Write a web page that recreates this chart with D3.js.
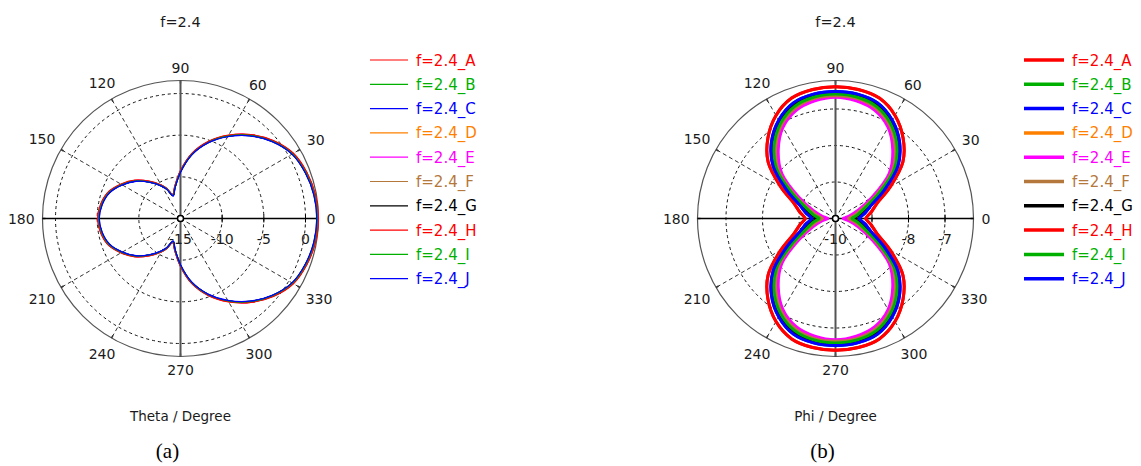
<!DOCTYPE html>
<html>
<head>
<meta charset="utf-8">
<script src="https://cdn.jsdelivr.net/npm/d3@7"></script>
<style>
  body { margin: 0; background: #fff; }
  svg { display: block; }
  text { font-family: "DejaVu Sans", Verdana, sans-serif; }
</style>
</head>
<body>
<svg id="chart" width="1141" height="466"></svg>
<script>
// series names and colours (shared by both plots)
const seriesNames = ["f=2.4_A", "f=2.4_B", "f=2.4_C", "f=2.4_D", "f=2.4_E",
                     "f=2.4_F", "f=2.4_G", "f=2.4_H", "f=2.4_I", "f=2.4_J"];
const seriesColors = ["#ff0000", "#00b000", "#0000ff", "#ff8000", "#ff00ff",
                      "#b4783c", "#000000", "#ff0000", "#00b000", "#0000ff"];

const angleLabels = [0, 30, 60, 90, 120, 150, 180, 210, 240, 270, 300, 330];

// (a) theta cut, 0..180 deg (pattern is symmetric), dB
const thetaAngles = [0, 10, 20, 30, 40, 50, 60, 70, 80, 90, 100, 108, 115, 120, 130, 140, 150, 160, 170, 180];
const thetaBase   = [1.4, 1.3, 1.0, 0.5, -0.6, -2.0, -3.6, -5.3, -7.2, -9.4, -11.2, -12.1, -11.1, -10.5, -9.3, -8.0, -6.9, -5.9, -5.4, -5.2];
const thetaOffset = [0.12, 0, -0.03, 0.04, 0.08, 0.03, 0, 0.14, 0.01, -0.05];
const thetaTicks  = [-15, -10, -5, 0];
const thetaDomain = [-15, 1.56];

// (b) phi cut, 0..90 deg (symmetric about both axes), dB
const phiAngles  = [0, 5, 10, 20, 30, 40, 50, 60, 70, 80, 90];
const phiRed     = [-9.17, -9.11, -9.01, -8.79, -8.27, -7.59, -7.12, -6.74, -6.49, -6.41, -6.39];
const phiBlue    = [-9.35, -9.29, -9.19, -8.97, -8.47, -7.77, -7.27, -6.89, -6.63, -6.54, -6.52];
const phiBlack   = [-9.48, -9.42, -9.32, -9.07, -8.56, -7.84, -7.34, -6.93, -6.67, -6.57, -6.55];
const phiGreen   = [-9.55, -9.48, -9.38, -9.14, -8.63, -7.89, -7.38, -6.99, -6.73, -6.62, -6.59];
const phiBrown   = [-9.64, -9.58, -9.47, -9.21, -8.70, -7.96, -7.45, -7.04, -6.78, -6.66, -6.64];
const phiOrange  = [-9.67, -9.60, -9.49, -9.23, -8.73, -7.99, -7.47, -7.05, -6.79, -6.68, -6.65];
const phiMagenta = [-9.79, -9.73, -9.62, -9.34, -8.85, -8.08, -7.56, -7.12, -6.85, -6.73, -6.68];
const phiSeries  = [phiRed, phiGreen, phiBlue, phiOrange, phiMagenta, phiBrown, phiBlack, phiRed, phiGreen, phiBlue];
const phiTicks   = [-10, -9, -8, -7];
const phiTickLabels = [-10, -8, -7];
const phiDomain  = [-10, -6.22];

const svg = d3.select("#chart");
const rad = Math.PI / 180;

// mirror half pattern to full circle
function mirrorHalf(angles, vals) {
  const pts = angles.map((a, i) => ({ a: a, v: vals[i] }));
  for (let i = angles.length - 2; i > 0; i--) pts.push({ a: 360 - angles[i], v: vals[i] });
  return pts;
}
function mirrorQuarter(angles, vals) {
  const pts = angles.map((a, i) => ({ a: a, v: vals[i] }));
  for (let i = angles.length - 2; i >= 0; i--) pts.push({ a: 180 - angles[i], v: vals[i] });
  for (let i = 1; i < angles.length; i++) pts.push({ a: 180 + angles[i], v: vals[i] });
  for (let i = angles.length - 2; i > 0; i--) pts.push({ a: 360 - angles[i], v: vals[i] });
  return pts;
}

function drawPolar(opt) {
  const g = svg.append("g").attr("transform", `translate(${opt.cx},${opt.cy})`);
  const R = opt.R;
  const r = d3.scaleLinear().domain(opt.domain).range([0, R]);

  // dashed spokes
  angleLabels.filter(a => a % 90 !== 0).forEach(a => {
    g.append("line")
      .attr("x1", 0).attr("y1", 0)
      .attr("x2", R * Math.cos(a * rad)).attr("y2", -R * Math.sin(a * rad))
      .attr("stroke", "#333").attr("stroke-width", 1).attr("stroke-dasharray", "4,3");
  });
  // dashed rings
  g.selectAll(".ring").data(opt.ticks.slice(1)).enter().append("circle")
    .attr("r", d => r(d)).attr("fill", "none")
    .attr("stroke", "#111").attr("stroke-width", 1).attr("stroke-dasharray", "3,3");
  // outer circle
  g.append("circle").attr("r", R).attr("fill", "none").attr("stroke", "#555").attr("stroke-width", 1.2);
  angleLabels.forEach(a => {
    g.append("line")
      .attr("x1", (R - 3) * Math.cos(a * rad)).attr("y1", -(R - 3) * Math.sin(a * rad))
      .attr("x2", R * Math.cos(a * rad)).attr("y2", -R * Math.sin(a * rad))
      .attr("stroke", "#333").attr("stroke-width", 1.5);
  });
  // main axes
  g.append("line").attr("x1", 0).attr("y1", -R).attr("x2", 0).attr("y2", R)
    .attr("stroke", "#555").attr("stroke-width", 2);
  g.append("line").attr("x1", -R).attr("y1", 0).attr("x2", R).attr("y2", 0)
    .attr("stroke", "#000").attr("stroke-width", 1.3);
  // radial ticks
  opt.ticks.slice(1).forEach(t => {
    g.append("line").attr("x1", r(t)).attr("x2", r(t)).attr("y1", -4).attr("y2", 4)
      .attr("stroke", "#000").attr("stroke-width", 1);
  });
  g.selectAll(".tl").data(opt.tickLabels).enter().append("text")
    .attr("x", d => r(d)).attr("y", 25)
    .attr("text-anchor", "middle").attr("font-size", "14px").attr("fill", "#1a1a1a")
    .text(d => d);

  // angle labels
  angleLabels.forEach(a => {
    const s = String(a);
    const w = s.length * 8.8, h = 10;
    const c = Math.cos(a * rad), sn = Math.sin(a * rad);
    const d = R + 8 + (w / 2) * Math.abs(c) + (h / 2) * Math.abs(sn);
    g.append("text")
      .attr("x", d * c).attr("y", -d * sn).attr("dy", "0.36em")
      .attr("text-anchor", "middle").attr("font-size", "14px").attr("fill", "#1a1a1a")
      .text(s);
  });

  // curves
  const line = d3.lineRadial()
    .angle(d => (90 - d.a) * rad)
    .radius(d => r(d.v))
    .curve(d3.curveCatmullRomClosed.alpha(0.5));
  opt.series.forEach((pts, i) => {
    g.append("path").attr("d", line(pts))
      .attr("fill", "none").attr("stroke", seriesColors[i])
      .attr("stroke-width", opt.lineWidth).attr("stroke-linejoin", "round");
  });

  // centre ring
  g.append("circle").attr("r", 3).attr("fill", "#fff").attr("stroke", "#000").attr("stroke-width", 1.5);

  // titles
  svg.append("text").attr("x", opt.cx).attr("y", 27).attr("text-anchor", "middle")
    .attr("font-size", "14.5px").attr("fill", "#1a1a1a").text("f=2.4");
  svg.append("text").attr("x", opt.cx).attr("y", 421).attr("text-anchor", "middle")
    .attr("font-size", "13.5px").attr("fill", "#1a1a1a").text(opt.axisTitle);
  svg.append("text").attr("x", opt.capX).attr("y", 458).attr("text-anchor", "middle")
    .style("font-family", "'Liberation Serif', 'Times New Roman', serif")
    .attr("font-size", "21px").attr("fill", "#000").text(opt.caption);

  // legend
  const lg = svg.append("g").attr("transform", `translate(${opt.legendX},60)`);
  seriesNames.forEach((n, i) => {
    const y = i * 24.3;
    lg.append("line").attr("x1", 0).attr("x2", opt.legendLen).attr("y1", y).attr("y2", y)
      .attr("stroke", seriesColors[i]).attr("stroke-width", opt.legendWidth);
    lg.append("text").attr("x", opt.legendLen + opt.legendGap).attr("y", y + 5.5)
      .attr("font-size", "15px").attr("fill", seriesColors[i]).text(n);
  });
}

drawPolar({
  cx: 180.5, cy: 218.5, R: 138,
  domain: thetaDomain, ticks: thetaTicks, tickLabels: thetaTicks,
  series: thetaOffset.map(o => mirrorHalf(thetaAngles, thetaBase.map(v => v + o))),
  lineWidth: 1.3, axisTitle: "Theta / Degree", caption: "(a)", capX: 167.5,
  legendX: 370, legendLen: 38, legendGap: 8, legendWidth: 1.2
});

drawPolar({
  cx: 835.5, cy: 218.5, R: 138,
  domain: phiDomain, ticks: phiTicks, tickLabels: phiTickLabels,
  series: phiSeries.map(s => mirrorQuarter(phiAngles, s)),
  lineWidth: 3, axisTitle: "Phi / Degree", caption: "(b)", capX: 822.5,
  legendX: 1024, legendLen: 40, legendGap: 8, legendWidth: 3.5
});
</script>
</body>
</html>
